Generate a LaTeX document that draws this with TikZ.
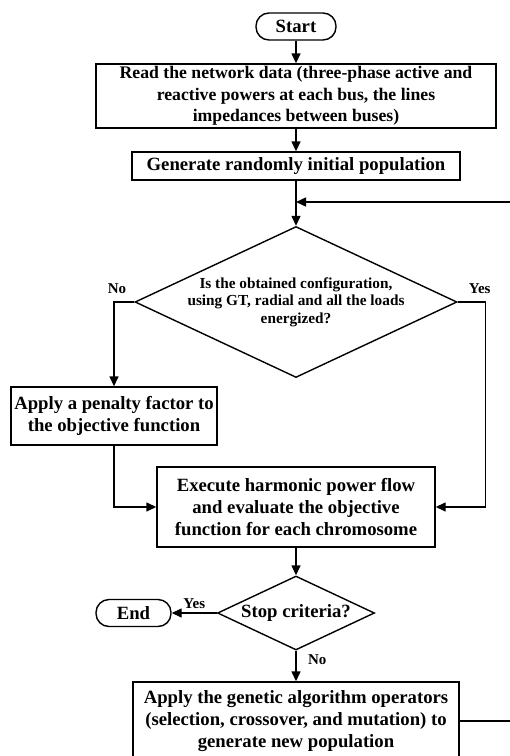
\documentclass[tikz,border=0pt]{standalone}
\usepackage{fontspec}
\setmainfont{Liberation Serif}
\usetikzlibrary{arrows.meta,shapes.geometric}

\begin{document}
\begin{tikzpicture}[x=1pt,y=-1pt,line width=1.4pt,
    font=\fontsize{18.7}{22}\selectfont\bfseries,
    >={Triangle[length=10pt,width=9pt]},
    process/.style={draw,rectangle,align=center,inner sep=0pt},
    terminal/.style={draw,rectangle,rounded corners=13pt,minimum width=#1,minimum height=27pt,inner sep=0pt},
    decision/.style={draw,diamond,inner sep=0pt},
    answer/.style={font=\fontsize{15}{17}\selectfont\bfseries}]
    \useasboundingbox (0,0) rectangle (510,756);
    \clip (0,0) rectangle (510,756);

    \node[terminal=80pt] (start) at (296,26.5) {Start};
    \node[process,minimum width=400pt,minimum height=64pt,font=\fontsize{17.7}{21.5}\selectfont\bfseries] (read) at (296,96)
        {Read the network data (three-phase active and\\ reactive powers at each bus, the lines\\ impedances between buses)};
    \node[process,minimum width=328pt,minimum height=28pt] (gen) at (296,166) {Generate randomly initial population};
    \coordinate (merge) at (296,202);

    \node[decision,minimum width=322pt,minimum height=151pt,
        label={[align=center,font=\fontsize{15.3}{17.5}\selectfont\bfseries]center:Is the obtained configuration,\\ using GT, radial and all the loads\\ energized?}] (cfg) at (296,302) {};

    \node[process,minimum width=206pt,minimum height=58pt] (pen) at (114,416)
        {Apply a penalty factor to\\ the objective function};
    \node[process,minimum width=278pt,minimum height=80pt] (exe) at (296,507)
        {Execute harmonic power flow\\ and evaluate the objective\\ function for each chromosome};

    \node[decision,shape aspect=2.12,minimum width=157pt,minimum height=74pt] (stop) at (296,613) {Stop criteria?};
    \node[terminal=75pt] (end) at (133.5,613) {End};

    \node[process,minimum width=326pt,minimum height=78pt] (ga) at (296,721)
        {Apply the genetic algorithm operators\\ (selection, crossover, and mutation) to\\ generate new population};
    \coordinate (loopR) at (530,721);

    \draw[->] (start) to (read);
    \draw[->] (read) to (gen);
    \draw[->] (gen) to (cfg);
    \draw[->] (ga.east) -- (loopR) |- (merge);

    \draw[->] (cfg.west) -| node[answer,above,xshift=3pt,yshift=4pt] {No} (pen.north);
    \draw[->] (cfg.east) -- ++(28,0) node[answer,above,xshift=-6pt,yshift=4pt] {Yes} |- (exe.east);
    \draw[->] (pen.south) |- (exe.west);

    \draw[->] (exe) to (stop);
    \draw[->] (stop.west) to node[answer,above] {Yes} (end.east);
    \draw[->] (stop.south) to node[answer,right,pos=0.3,xshift=8pt] {No} (ga.north);
\end{tikzpicture}
\end{document}
